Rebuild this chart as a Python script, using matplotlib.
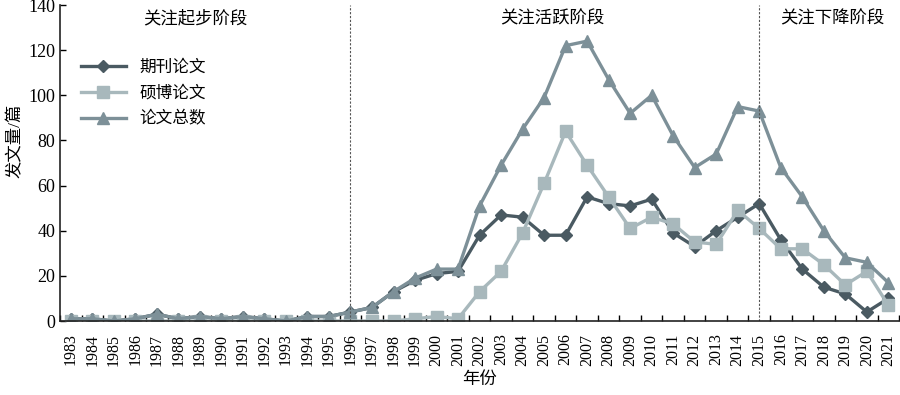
import matplotlib
matplotlib.use("Agg")
import matplotlib.pyplot as plt
from matplotlib.ticker import MultipleLocator

plt.rcParams['font.family'] = ['Liberation Serif', 'Noto Sans CJK SC']

years = list(range(1983, 2022))
journal = [1, 1, 0, 1, 3, 1, 2, 1, 2, 1, 0, 2, 2, 4, 6, 13, 18, 21, 22,
           38, 47, 46, 38, 38, 55, 52, 51, 54, 39, 33, 40, 46, 52, 36, 23, 15, 12, 4, 10]
thesis = [0, 0, 0, 0, 0, 0, 0, 0, 0, 0, 0, 0, 0, 0, 0, 0, 1, 2, 1,
          13, 22, 39, 61, 84, 69, 55, 41, 46, 43, 35, 34, 49, 41, 32, 32, 25, 16, 22, 7]
total = [1, 1, 0, 1, 3, 1, 2, 1, 2, 1, 0, 2, 2, 4, 6, 13, 19, 23, 23,
         51, 69, 85, 99, 122, 124, 107, 92, 100, 82, 68, 74, 95, 93, 68, 55, 40, 28, 26, 17]

series_names = ['期刊论文', '硕博论文', '论文总数']
phase_labels = ['关注起步阶段', '关注活跃阶段', '关注下降阶段']
phase_label_x = [1988.8, 2005.4, 2018.4]
phase_breaks = [1996, 2015]

fig = plt.figure(figsize=(9, 3.95), dpi=100)
ax = fig.add_axes([0.0667, 0.1873, 0.9323, 0.80])

ax.plot(years, journal, color='#4a5a62', lw=2.4, marker='D', ms=6.5, label=series_names[0])
ax.plot(years, thesis, color='#a8b8bc', lw=2.4, marker='s', ms=8, label=series_names[1])
ax.plot(years, total, color='#7d9098', lw=2.4, marker='^', ms=8.5, label=series_names[2])

for xb in phase_breaks:
    ax.axvline(xb, color='#555555', lw=0.8, ls=(0, (2, 1.5)))

for lbl, xl in zip(phase_labels, phase_label_x):
    ax.text(xl, 133.8, lbl, ha='center', va='center', fontsize=12.5)

ax.set_xlim(1982.5, 2021.5)
ax.set_ylim(0, 140)
ax.set_xticks(years)
ax.set_xticklabels([str(y) for y in years], rotation=90, fontsize=11.5)
ax.xaxis.set_minor_locator(MultipleLocator(1, offset=0.5))
ax.tick_params(axis='x', which='major', length=0, pad=9)
ax.tick_params(axis='x', which='minor', direction='in', length=4, width=1)
ax.yaxis.set_major_locator(MultipleLocator(20))
ax.tick_params(axis='y', direction='in', length=4, width=1, labelsize=13)

for side in ['top', 'right']:
    ax.spines[side].set_visible(False)
for side in ['left', 'bottom']:
    ax.spines[side].set_linewidth(1.2)
    ax.spines[side].set_color('#222222')

ax.set_xlabel('年份', fontsize=12.5, labelpad=5)
ax.set_ylabel('发文量/篇', fontsize=12.5)
ax.yaxis.set_label_coords(-0.043, 0.57)

ax.legend(loc='upper left', bbox_to_anchor=(0.007, 0.875), frameon=False, fontsize=12,
          handlelength=2.7, labelspacing=0.6, borderaxespad=0.5)

fig.savefig('out.png', dpi=100)
